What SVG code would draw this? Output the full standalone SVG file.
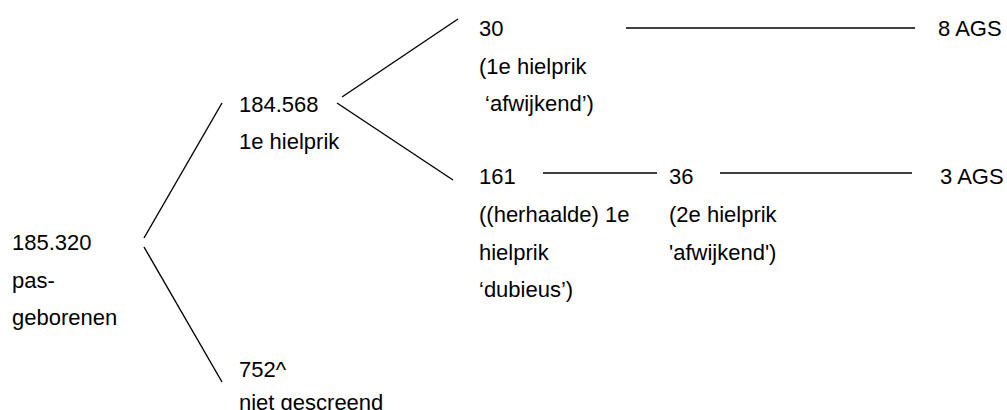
<svg xmlns="http://www.w3.org/2000/svg" width="1007" height="410" viewBox="0 0 1007 410">
<style>
text{font-family:"Liberation Sans",Arial,sans-serif;font-size:22px;fill:#000}
line{stroke:#000;stroke-width:1.4}
</style>
<rect width="1007" height="410" fill="#fff"/>
<g id="connectors">
<line x1="144" y1="238" x2="222" y2="103"/>
<line x1="144" y1="247" x2="222" y2="382"/>
<line x1="342" y1="97" x2="458" y2="19"/>
<line x1="337" y1="103" x2="453" y2="180"/>
<line x1="626" y1="28" x2="915" y2="28"/>
<line x1="543" y1="173" x2="657" y2="173"/>
<line x1="720" y1="173" x2="912" y2="173"/>
</g>
<g id="n-root"><text x="12" y="250">185.320</text><text x="12" y="287.5">pas-</text><text x="12" y="325">geborenen</text></g>
<g id="n-first"><text x="239" y="112">184.568</text><text x="239" y="149">1e hielprik</text></g>
<g id="n-not"><text x="239" y="377">752^</text><text x="239" y="410">niet gescreend</text></g>
<g id="n-30"><text x="479" y="36">30</text><text x="479" y="73.5">(1e hielprik</text><text x="479" y="111" xml:space="preserve"> ‘afwijkend’)</text></g>
<g id="n-161"><text x="479" y="184">161</text><text x="479" y="222">((herhaalde) 1e</text><text x="479" y="259.5">hielprik</text><text x="479" y="297">‘dubieus’)</text></g>
<g id="n-36"><text x="669" y="184">36</text><text x="669" y="222">(2e hielprik</text><text x="669" y="259.5">'afwijkend')</text></g>
<g id="n-8ags"><text x="938" y="36">8 AGS</text></g>
<g id="n-3ags"><text x="940" y="184">3 AGS</text></g>
</svg>
